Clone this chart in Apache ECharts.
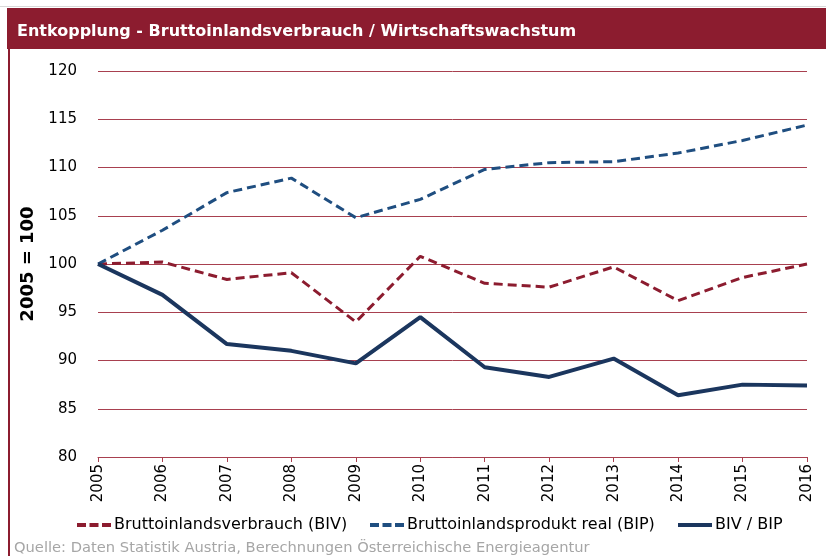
<!DOCTYPE html>
<html>
<head>
<meta charset="utf-8">
<script src="https://cdn.jsdelivr.net/npm/echarts@6/dist/echarts.min.js"></script>
<style>
  html, body { margin: 0; padding: 0; background: #fff; }
  #chart { width: 826px; height: 556px; }
</style>
</head>
<body>
<div id="chart"></div>
<script>
// Daten (2005 = 100)
const jahre = ['2005', '2006', '2007', '2008', '2009', '2010', '2011', '2012', '2013', '2014', '2015', '2016'];
const biv = [100, 100.2, 98.4, 99.1, 94.0, 100.8, 98.0, 97.6, 99.7, 96.2, 98.6, 100.0];
const bip = [100, 103.5, 107.4, 108.9, 104.8, 106.7, 109.8, 110.5, 110.6, 111.5, 112.8, 114.4];
const bivBip = [100, 96.8, 91.7, 91.0, 89.7, 94.5, 89.3, 88.3, 90.2, 86.4, 87.5, 87.4];
const serienNamen = ['Bruttoinlandsverbrauch (BIV)', 'Bruttoinlandsprodukt real (BIP)', 'BIV / BIP'];

const rot = '#8c1c2f';
const blau = '#1f4e80';
const navy = '#1b365e';

// Legenden-Symbole: gestrichelt bzw. durchgezogen
const iconStrich = 'path://M0,0h9v4h-9z M12.5,0h9v4h-9z M25,0h9v4h-9z';
const iconVoll = 'path://M0,0h34v4h-34z';

function legende(name, icon, links) {
    return {
        data: [{ name: name, icon: icon }],
        left: links,
        top: 512,
        itemWidth: 34,
        itemHeight: 4,
        itemGap: 0,
        textStyle: { fontFamily: 'DejaVu Sans', fontSize: 16, color: '#000', padding: [0, 0, 0, -2] }
    };
}

var chart = echarts.init(document.getElementById('chart'), null, { renderer: 'canvas' });

var option = {
    animation: false,
    title: {
        text: 'Entkopplung - Bruttoinlandsverbrauch / Wirtschaftswachstum',
        left: 12,
        top: 19,
        textStyle: {
            color: '#fff',
            fontFamily: 'DejaVu Sans',
            fontWeight: 'bold',
            fontSize: 16
        }
    },
    graphic: [
        { type: 'rect', z: -1, shape: { x: 7, y: 8, width: 819, height: 41 }, style: { fill: rot } },
        { type: 'line', shape: { x1: 0, y1: 6.5, x2: 826, y2: 6.5 }, style: { stroke: '#d9d9d9', lineWidth: 1 } },
        { type: 'line', shape: { x1: 9, y1: 8, x2: 9, y2: 556 }, style: { stroke: rot, lineWidth: 2 } },
        {
            type: 'text', left: 14, top: 541,
            style: {
                text: 'Quelle: Daten Statistik Austria, Berechnungen Österreichische Energieagentur',
                fill: '#a6a6a6', font: '14.7px "DejaVu Sans"'
            }
        }
    ],
    legend: [
        legende(serienNamen[0], iconStrich, 72),
        legende(serienNamen[1], iconStrich, 365),
        legende(serienNamen[2], iconVoll, 673)
    ],
    grid: { left: 98, right: 19, top: 71, bottom: 99 },
    xAxis: {
        type: 'category',
        data: jahre,
        boundaryGap: false,
        axisLine: { lineStyle: { color: '#a8404f', width: 1 } },
        axisTick: { show: true, length: 5, lineStyle: { color: '#a8404f' } },
        axisLabel: { rotate: 90, color: '#000', fontFamily: 'DejaVu Sans', fontSize: 15, margin: 7 }
    },
    yAxis: {
        type: 'value',
        min: 80,
        max: 120,
        interval: 5,
        name: '2005 = 100',
        nameLocation: 'middle',
        nameGap: 60,
        nameTextStyle: { fontFamily: 'DejaVu Sans', fontWeight: 'bold', fontSize: 18, color: '#000' },
        axisLine: { show: false },
        axisTick: { show: false },
        axisLabel: { color: '#000', fontFamily: 'DejaVu Sans', fontSize: 15, margin: 21 },
        splitLine: { lineStyle: { color: '#a8404f', width: 1 } }
    },
    series: [
        {
            name: serienNamen[0], type: 'line', data: biv, symbol: 'none',
            lineStyle: { color: rot, width: 3, type: [9, 5] }, itemStyle: { color: rot }
        },
        {
            name: serienNamen[1], type: 'line', data: bip, symbol: 'none',
            lineStyle: { color: blau, width: 3, type: [9, 5] }, itemStyle: { color: blau }
        },
        {
            name: serienNamen[2], type: 'line', data: bivBip, symbol: 'none',
            lineStyle: { color: navy, width: 4 }, itemStyle: { color: navy }
        }
    ]
};

chart.setOption(option);
</script>
</body>
</html>
